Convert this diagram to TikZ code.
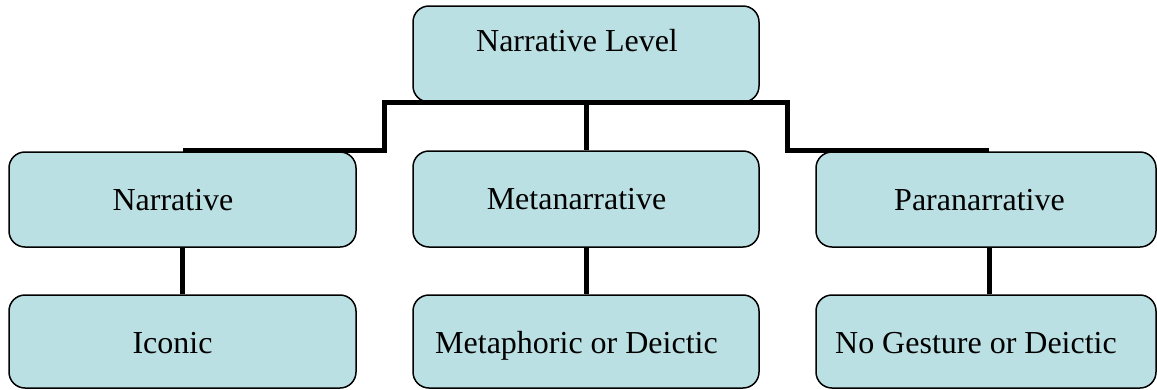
\documentclass[tikz,border=0pt]{standalone}
\usepackage{fontspec}
\setmainfont{Liberation Serif}
\definecolor{boxfill}{HTML}{BBE0E3}
\newcommand\boxtext[3]{\raisebox{#2}[0pt][0pt]{\makebox[0pt]{\hspace*{#1}#3}}}
\begin{document}
\begin{tikzpicture}[x=1pt,y=-1pt,
  box/.style={draw=black, line width=1.5pt, fill=boxfill, rounded corners=16pt,
    inner sep=0pt, anchor=center, font=\fontsize{32}{38}\selectfont},
  conn/.style={draw=black, line width=5pt, line cap=butt, line join=miter}]
\useasboundingbox (0,0) rectangle (1157,389);
% boxes
\node[box, minimum width=346pt, minimum height=96pt] (top) at (586,54) {\boxtext{-18pt}{3pt}{Narrative Level}};
\node[box, minimum width=347pt, minimum height=95pt] (narr) at (182.5,199.5) {\boxtext{-19pt}{-10.5pt}{Narrative}};
\node[box, minimum width=346pt, minimum height=96pt] (meta) at (586,199) {\boxtext{-19pt}{-10.5pt}{Metanarrative}};
\node[box, minimum width=340pt, minimum height=95pt] (para) at (986,199.5) {\boxtext{-13pt}{-10.5pt}{Paranarrative}};
\node[box, minimum width=347pt, minimum height=93pt] (icon) at (182.5,341.5) {\boxtext{-20pt}{-11.5pt}{Iconic}};
\node[box, minimum width=346pt, minimum height=93pt] (metaph) at (586,341.5) {\boxtext{-19pt}{-11.5pt}{Metaphoric or Deictic}};
\node[box, minimum width=340pt, minimum height=93pt] (nog) at (986,341.5) {\boxtext{-20pt}{-11.5pt}{No Gesture or Deictic}};
% connector junctions
\coordinate (lend) at (183,150.5);
\coordinate (lbend) at (384.5,150.5);
\coordinate (ltop) at (384.5,102.5);
\coordinate (rtop) at (787.5,102.5);
\coordinate (rbend) at (787.5,150.5);
\coordinate (rend) at (989,150.5);
\draw[conn] (lend) -- (lbend) -- (ltop) -- (rtop) -- (rbend) -- (rend);
\draw[conn] (top.south) -- (meta.north);
\draw[conn] (narr.south) -- (icon.north);
\draw[conn] (meta.south) -- (metaph.north);
\draw[conn] ([xshift=3pt]para.south) -- ([xshift=3pt]nog.north);
\end{tikzpicture}
\end{document}
